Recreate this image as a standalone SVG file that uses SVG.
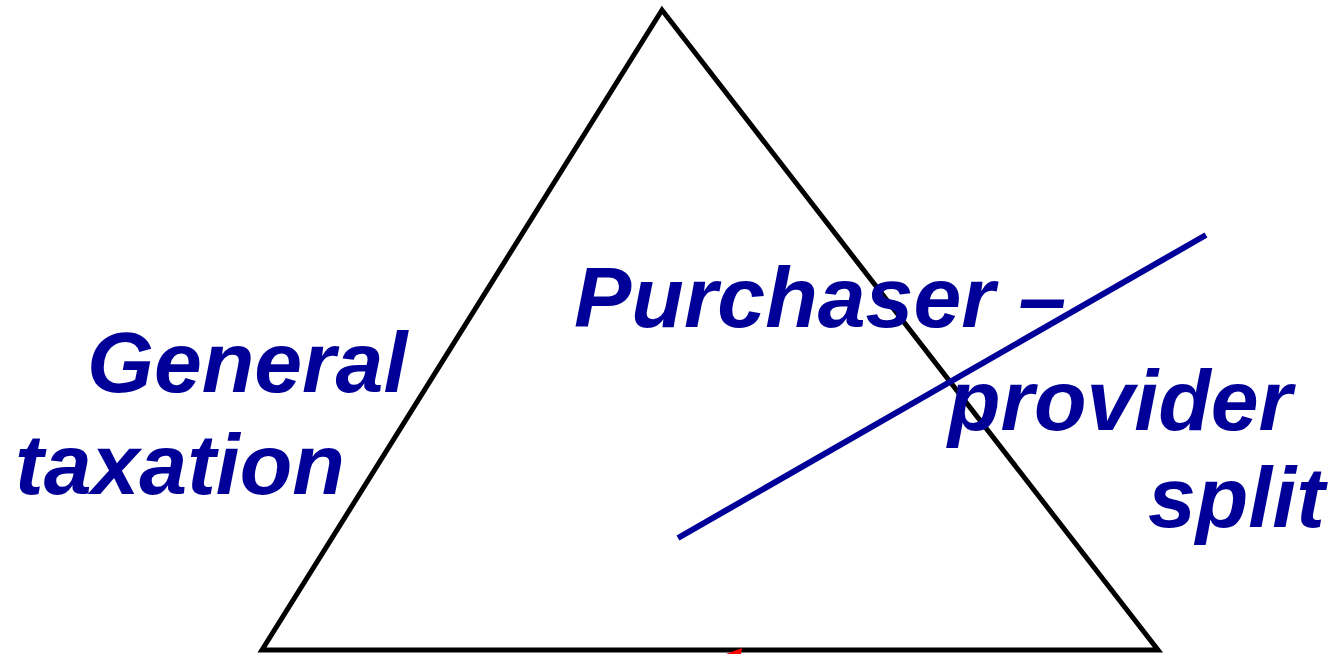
<svg xmlns="http://www.w3.org/2000/svg" width="1332" height="654" viewBox="0 0 1332 654">
<style>
.lbl{font-family:"Liberation Sans",Arial,sans-serif;font-weight:bold;font-style:italic;font-size:86px;fill:#000099}
</style>
<rect width="1332" height="654" fill="#ffffff"/>
<g id="triangle">
<polygon points="662,10 262,650 1158,650" fill="none" stroke="#000000" stroke-width="5" stroke-linejoin="miter"/>
</g>
<g id="general-taxation">
<text class="lbl" x="87" y="392">General</text>
<text class="lbl" x="15" y="494">taxation</text>
</g>
<g id="purchaser-provider">
<text class="lbl" x="574" y="327">Purchaser –</text>
<text class="lbl" x="948" y="430">provider</text>
<text class="lbl" x="1148" y="527">split</text>
</g>
<g id="connectors">
<line x1="678" y1="538" x2="1206" y2="235" stroke="#000099" stroke-width="6"/>
<polygon points="726,654 742,648 741,654" fill="#ff0000"/>
</g>
</svg>
